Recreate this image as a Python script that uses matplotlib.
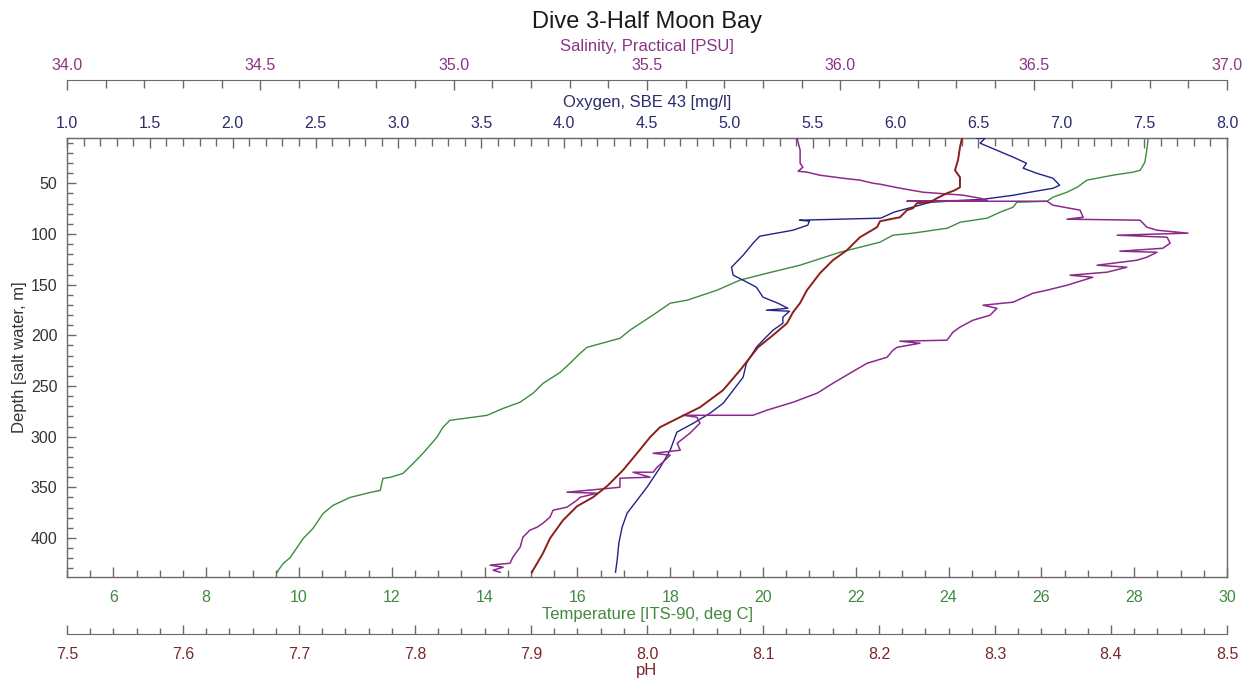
import matplotlib
matplotlib.use("Agg")
import matplotlib.pyplot as plt
from matplotlib.ticker import MultipleLocator, FormatStrFormatter

plt.rcParams['font.family'] = ['Liberation Sans', 'DejaVu Sans']

# ---------------- profile data (depth in m) ----------------
temp_depth = [5.5, 14.4, 29.2, 37.1, 39.0, 42.0, 46.9, 53.9, 58.8, 63.7, 67.7, 68.7,
              73.6, 78.5, 84.4, 88.4, 94.3, 99.2, 101.2, 108.1, 113.1, 118.0, 130.8,
              138.7, 145.6, 155.5, 165.4, 168.3, 177.2, 195.0, 202.9, 211.8, 217.7,
              227.6, 236.5, 247.4, 257.3, 266.1, 272.1, 279.0, 283.9, 290.9, 300.7,
              316.5, 326.4, 336.3, 340.2, 341.2, 353.1, 355.1, 360.0, 367.9, 375.8,
              390.6, 400.5, 419.3, 425.2, 432.1, 434.1]
temp_c = [28.30, 28.28, 28.23, 28.13, 27.97, 27.54, 26.98, 26.77, 26.55, 26.25, 26.12,
          25.47, 25.39, 25.11, 24.83, 24.25, 23.97, 23.23, 22.80, 22.52, 22.09, 21.66,
          20.80, 20.09, 19.50, 19.01, 18.36, 18.00, 17.72, 17.13, 16.92, 16.21, 16.06,
          15.84, 15.63, 15.26, 15.04, 14.76, 14.40, 14.05, 13.25, 13.10, 12.97, 12.67,
          12.46, 12.24, 11.96, 11.81, 11.75, 11.53, 11.10, 10.73, 10.52, 10.30, 10.09,
          9.81, 9.66, 9.55, 9.53]

oxy_depth = [5.5, 5.5, 10.4, 17.3, 24.2, 30.2, 35.1, 40.0, 45.0, 51.9, 54.9, 58.8,
             61.8, 65.7, 68.7, 78.5, 84.4, 86.4, 87.4, 91.3, 96.3, 102.2, 109.1,
             121.0, 132.8, 140.7, 145.6, 152.5, 162.4, 168.3, 173.3, 175.2, 176.2,
             182.1, 188.1, 195.0, 204.8, 211.8, 227.6, 241.4, 254.2, 267.0, 276.9,
             286.7, 295.6, 313.4, 330.2, 349.9, 362.7, 375.5, 389.3, 405.1, 421.9, 433.8]
oxy_mgl = [6.49, 6.54, 6.51, 6.61, 6.71, 6.79, 6.77, 6.85, 6.95, 6.99, 6.95, 6.81,
           6.71, 6.53, 6.21, 5.99, 5.91, 5.42, 5.48, 5.47, 5.38, 5.18, 5.14, 5.08,
           5.01, 5.02, 5.08, 5.16, 5.20, 5.29, 5.35, 5.22, 5.36, 5.32, 5.32, 5.26,
           5.20, 5.16, 5.10, 5.08, 5.02, 4.96, 4.88, 4.78, 4.68, 4.64, 4.58, 4.50,
           4.44, 4.38, 4.35, 4.33, 4.32, 4.31]

sal_depth = [5.5, 17.3, 30.2, 34.1, 38.1, 39.0, 42.0, 45.0, 46.9, 49.9, 50.9, 54.8,
             58.8, 61.7, 64.7, 66.7, 67.7, 67.7, 71.6, 76.5, 83.5, 85.4, 86.4, 93.3,
             96.3, 99.2, 101.2, 103.2, 109.1, 114.1, 117.0, 118.0, 122.9, 125.9,
             130.8, 132.8, 137.7, 140.7, 142.7, 150.6, 155.5, 158.5, 167.3, 170.3,
             173.3, 180.2, 185.1, 192.0, 197.0, 204.8, 205.8, 207.8, 211.8, 214.7,
             221.6, 227.6, 237.4, 247.3, 257.1, 266.0, 273.9, 278.9, 278.9, 280.8,
             286.7, 296.6, 306.5, 313.4, 316.4, 318.3, 325.2, 330.2, 335.1, 335.1,
             340.0, 341.0, 349.9, 350.9, 354.8, 355.8, 359.8, 362.7, 369.6, 372.6,
             379.5, 385.4, 389.3, 392.3, 399.2, 409.0, 418.9, 424.9, 426.8, 428.8,
             431.8, 433.8]
sal_psu = [35.888, 35.896, 35.896, 35.903, 35.891, 35.914, 35.947, 36.007, 36.051,
           36.084, 36.103, 36.154, 36.214, 36.317, 36.361, 36.379, 36.172, 36.534,
           36.550, 36.620, 36.628, 36.586, 36.775, 36.793, 36.819, 36.899, 36.716,
           36.845, 36.853, 36.834, 36.723, 36.819, 36.793, 36.767, 36.664, 36.741,
           36.690, 36.594, 36.653, 36.586, 36.534, 36.498, 36.447, 36.369, 36.405,
           36.387, 36.343, 36.309, 36.291, 36.276, 36.154, 36.206, 36.147, 36.136,
           36.121, 36.069, 36.025, 35.981, 35.940, 35.878, 35.810, 35.774, 35.593,
           35.629, 35.637, 35.611, 35.578, 35.586, 35.516, 35.560, 35.541, 35.526,
           35.516, 35.464, 35.508, 35.430, 35.430, 35.404, 35.293, 35.371, 35.327,
           35.319, 35.293, 35.257, 35.249, 35.231, 35.216, 35.197, 35.179, 35.172,
           35.153, 35.146, 35.094, 35.128, 35.102, 35.120]

ph_depth = [5.5, 14.4, 27.2, 37.1, 44.0, 53.9, 56.8, 59.8, 64.7, 68.7, 69.6, 74.6,
            76.5, 83.5, 87.4, 93.3, 103.2, 116.0, 125.9, 138.7, 155.5, 168.3, 177.2,
            188.1, 199.9, 211.8, 234.5, 254.2, 271.0, 280.8, 290.7, 300.6, 316.4,
            333.1, 343.0, 348.9, 359.8, 368.7, 382.5, 400.3, 415.1, 431.9, 433.9]
ph_val = [8.2716, 8.2698, 8.2681, 8.2655, 8.2698, 8.2698, 8.2655, 8.2586, 8.2500,
          8.2440, 8.2328, 8.2293, 8.2241, 8.2181, 8.2009, 8.1983, 8.1836, 8.1724,
          8.1603, 8.1491, 8.1379, 8.1319, 8.1259, 8.1207, 8.1086, 8.0957, 8.0802,
          8.0655, 8.0457, 8.0284, 8.0112, 8.0026, 7.9914, 7.9793, 7.9707, 7.9655,
          7.9534, 7.9397, 7.9276, 7.9164, 7.9103, 7.9017, 7.9009]

# ---------------- axis ranges ----------------
depth_range = (438.2, 4.8)
temp_range = (5.0, 30.0)
oxy_range = (1.0, 8.0)
sal_range = (34.0, 37.0)
ph_range = (7.5, 8.5)

# ---------------- colours ----------------
c_sal_line, c_sal_txt = '#8c2a8c', '#8a3586'
c_oxy_line, c_oxy_txt = '#232383', '#2c2c6e'
c_tmp_line, c_tmp_txt = '#3c8c3c', '#3f8a3f'
c_ph_line, c_ph_txt = '#8b1f1a', '#7a2a2a'
c_axis = '#6a6a6a'

W, H = 1251, 681
fig = plt.figure(figsize=(W / 100, H / 100), dpi=100)
L, R, T, B = 67, 1227, 137.5, 576.7
ax = fig.add_axes([L / W, 1 - B / H, (R - L) / W, (B - T) / H])

PX = 0.72  # points per pixel
TICK_FS = 11.5
LABEL_FS = 12


def style_axis(axis, color, pad, major_len=10, minor_len=7):
    axis.set_tick_params(which='both', direction='in', color=c_axis, width=1.0,
                         labelsize=TICK_FS, labelcolor=color, pad=pad)
    axis.set_tick_params(which='major', length=major_len * PX)
    axis.set_tick_params(which='minor', length=minor_len * PX)


# temperature / depth (main axes)
ax.set_ylim(*depth_range)
ax.set_xlim(*temp_range)
for s in ax.spines.values():
    s.set_color(c_axis)
    s.set_linewidth(1.0)
ax.yaxis.set_major_locator(MultipleLocator(50))
ax.yaxis.set_minor_locator(MultipleLocator(10))
ax.xaxis.set_major_locator(MultipleLocator(2))
ax.xaxis.set_minor_locator(MultipleLocator(0.5))
ax.xaxis.set_major_formatter(FormatStrFormatter('%d'))
style_axis(ax.xaxis, c_tmp_txt, 9.4)
style_axis(ax.yaxis, '#333333', 7.0, major_len=9, minor_len=6)
ax.plot(temp_c, temp_depth, color=c_tmp_line, lw=1.0, zorder=3)

# oxygen (top spine of plot box)
ax_o = ax.twiny()
ax_o.set_xlim(*oxy_range)
for k, s in ax_o.spines.items():
    s.set_visible(k == 'top')
ax_o.spines['top'].set_color(c_axis)
ax_o.xaxis.set_major_locator(MultipleLocator(0.5))
ax_o.xaxis.set_minor_locator(MultipleLocator(0.1))
ax_o.xaxis.set_major_formatter(FormatStrFormatter('%.1f'))
style_axis(ax_o.xaxis, c_oxy_txt, 4.4, major_len=10, minor_len=7.5)
ax_o.plot(oxy_mgl, oxy_depth, color=c_oxy_line, lw=1.0, zorder=3)

# salinity (offset top axis)
ax_s = ax.twiny()
ax_s.set_xlim(*sal_range)
for k, s in ax_s.spines.items():
    s.set_visible(k == 'top')
ax_s.spines['top'].set_position(('outward', (T - 80) * PX))
ax_s.spines['top'].set_color(c_axis)
ax_s.xaxis.set_major_locator(MultipleLocator(0.5))
ax_s.xaxis.set_minor_locator(MultipleLocator(0.1))
ax_s.xaxis.set_major_formatter(FormatStrFormatter('%.1f'))
style_axis(ax_s.xaxis, c_sal_txt, 4.8, major_len=9.5, minor_len=7.5)
ax_s.plot(sal_psu, sal_depth, color=c_sal_line, lw=1.1, zorder=3)

# pH (offset bottom axis)
ax_p = ax.twiny()
ax_p.set_xlim(*ph_range)
ax_p.xaxis.set_ticks_position('bottom')
ax_p.xaxis.set_label_position('bottom')
for k, s in ax_p.spines.items():
    s.set_visible(k == 'bottom')
ax_p.spines['bottom'].set_position(('outward', (634 - B) * PX))
ax_p.spines['bottom'].set_color(c_axis)
ax_p.xaxis.set_major_locator(MultipleLocator(0.1))
ax_p.xaxis.set_minor_locator(MultipleLocator(0.02))
ax_p.xaxis.set_major_formatter(FormatStrFormatter('%.1f'))
style_axis(ax_p.xaxis, c_ph_txt, 9.1, major_len=9.5, minor_len=6.5)
ax_p.plot(ph_val, ph_depth, color=c_ph_line, lw=1.4, zorder=3)


def ftext(x, y, s, **kw):
    fig.text(x / W, 1 - y / H, s, ha='center', va='center', **kw)


cx = (L + R) / 2
ftext(cx, 22, 'Dive 3-Half Moon Bay', fontsize=17, color='#1a1a1a')
ftext(cx, 46, 'Salinity, Practical [PSU]', fontsize=LABEL_FS, color=c_sal_txt)
ftext(cx, 103, 'Oxygen, SBE 43 [mg/l]', fontsize=LABEL_FS, color=c_oxy_txt)
ftext(cx, 614, 'Temperature [ITS-90, deg C]', fontsize=LABEL_FS, color=c_tmp_txt)
ftext(cx, 671, 'pH', fontsize=LABEL_FS, color=c_ph_txt)
ftext(20, (T + B) / 2, 'Depth [salt water, m]', fontsize=LABEL_FS, color='#333333',
      rotation=90)

fig.savefig('out.png', dpi=100, facecolor='white')
